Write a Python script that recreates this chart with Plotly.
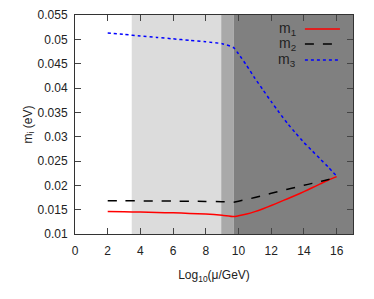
import plotly.graph_objects as go

# ---- data ----
mu1 = [2, 3, 4, 5, 6, 7, 8, 9, 9.7, 10, 10.5, 11, 11.5, 12, 12.5, 13, 13.5, 14, 14.5, 15, 15.5, 16]
m1 = [0.0146, 0.01455, 0.0145, 0.01443, 0.01435, 0.01423, 0.0141, 0.01385, 0.01358,
      0.01375, 0.0141, 0.0146, 0.0152, 0.01585, 0.01655, 0.01725, 0.01795, 0.0187,
      0.0195, 0.0203, 0.0211, 0.0218]
m2 = [0.01685, 0.01683, 0.0168, 0.01678, 0.01676, 0.01673, 0.0167, 0.01663, 0.01652,
      0.01675, 0.0171, 0.0175, 0.0179, 0.01836, 0.0188, 0.0192, 0.0196, 0.0200,
      0.0204, 0.0208, 0.0212, 0.0218]
m3 = [0.0513, 0.0510, 0.0507, 0.0504, 0.0501, 0.0498, 0.0495, 0.0491, 0.0483,
      0.0470, 0.0446, 0.0420, 0.0396, 0.0372, 0.0349, 0.0327, 0.0307, 0.0288,
      0.0271, 0.0254, 0.0237, 0.0219]

# shaded regions (x ranges) and colours
region_edges = [3.47, 8.94, 9.7, 17]
region_colors = ["#dcdcdc", "#a9a9a9", "#808080"]

series_names = ["m<sub>1</sub>", "m<sub>2</sub>", "m<sub>3</sub>"]
series_colors = ["#ff0000", "#000000", "#0000ff"]
series_dash = ["solid", "dash", "dot"]

x_ticks = [0, 2, 4, 6, 8, 10, 12, 14, 16]
y_ticks = [0.01, 0.015, 0.02, 0.025, 0.03, 0.035, 0.04, 0.045, 0.05, 0.055]
y_tick_text = ["0.01", "0.015", "0.02", "0.025", "0.03", "0.035", "0.04", "0.045", "0.05", "0.055"]

FONT = "Liberation Sans, Arial"

fig = go.Figure()
for ys, name, col, dash in zip([m1, m2, m3], series_names, series_colors, series_dash):
    fig.add_trace(go.Scatter(x=mu1, y=ys, mode="lines", name=name,
                             line=dict(color=col, dash=dash, width=1.5, shape="spline", smoothing=0.5),
                             showlegend=False))

shapes = []
for i, col in enumerate(region_colors):
    shapes.append(dict(type="rect", xref="x", yref="paper", x0=region_edges[i], x1=region_edges[i + 1],
                       y0=0, y1=1, fillcolor=col, line=dict(width=0), layer="below"))

# legend (text on left, sample on right)
leg_y = [0.936, 0.868, 0.795]
annotations = []
for name, col, dash, yy in zip(series_names, series_colors, series_dash, leg_y):
    annotations.append(dict(x=0.802, y=yy, xref="paper", yref="paper", text=name, showarrow=False,
                            xanchor="right", yanchor="middle",
                            font=dict(family=FONT, size=14, color="#222")))
    shapes.append(dict(type="line", xref="paper", yref="paper", x0=0.827, x1=0.953, y0=yy, y1=yy,
                       line=dict(color=col, dash=dash, width=1.5)))

axis_common = dict(showgrid=False, zeroline=False, showline=True, linecolor="#333", linewidth=1,
                   mirror="ticks", ticks="inside", ticklen=6, tickcolor="#444", automargin=False,
                   tickfont=dict(family=FONT, size=12, color="#222"))

fig.update_layout(
    width=374, height=299,
    margin=dict(l=67, r=29, t=7, b=73),
    paper_bgcolor="white", plot_bgcolor="white",
    shapes=shapes, annotations=annotations,
    xaxis=dict(range=[0, 17], tickvals=x_ticks, ticklabelstandoff=6,
               title=dict(text="Log<sub>10</sub>(μ/GeV)", standoff=13,
                          font=dict(family=FONT, size=12, color="#222")),
               **axis_common),
    yaxis=dict(range=[0.01, 0.055], tickvals=y_ticks, ticktext=y_tick_text, ticklabelstandoff=4,
               title=dict(text="m<sub>i</sub> (eV)", standoff=2,
                          font=dict(family=FONT, size=12, color="#222")),
               **axis_common),
)

fig.write_html("out.html")
